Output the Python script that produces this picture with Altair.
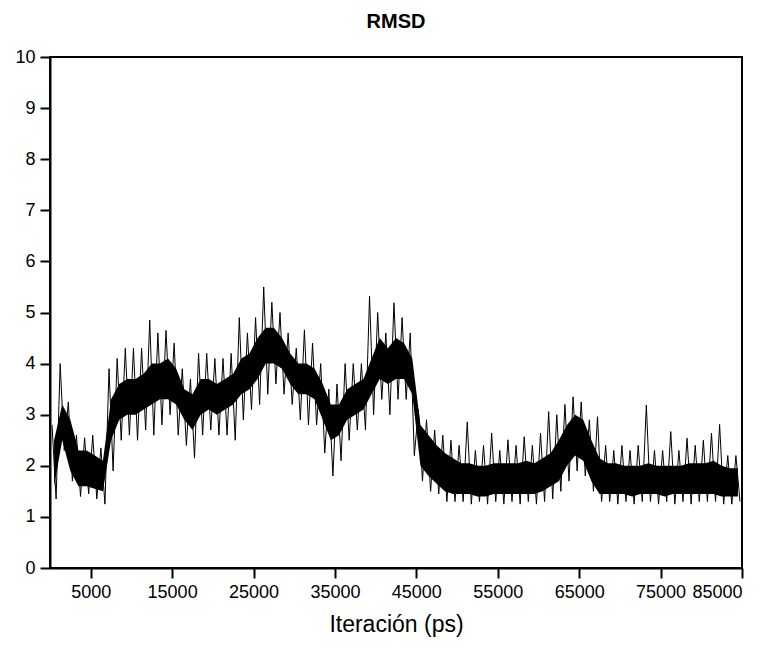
import altair as alt
import pandas as pd

# Bin starts (ps), one bin per 1000 ps
t_start = list(range(0, 85000, 1000))

# Dense core of the RMSD trace (lower / upper edge), per bin
core_lo = [1.6, 2.5, 1.9, 1.6, 1.6, 1.55, 1.5, 2.5, 2.9, 3.0,
           3.0, 3.1, 3.2, 3.3, 3.3, 3.2, 2.9, 2.7, 3.0, 3.1,
           3.0, 3.1, 3.2, 3.4, 3.5, 3.7, 4.0, 4.0, 3.9, 3.6,
           3.4, 3.4, 3.3, 2.9, 2.5, 2.6, 2.9, 3.0, 3.1, 3.4,
           3.7, 3.6, 3.7, 3.7, 3.4, 2.0, 1.8, 1.65, 1.5, 1.45,
           1.45, 1.45, 1.4, 1.4, 1.45, 1.45, 1.45, 1.45, 1.45, 1.45,
           1.5, 1.6, 1.7, 2.0, 2.2, 2.1, 1.7, 1.45, 1.45, 1.45,
           1.45, 1.4, 1.45, 1.45, 1.45, 1.4, 1.45, 1.45, 1.45, 1.45,
           1.45, 1.45, 1.4, 1.4, 1.4]
core_hi = [2.5, 3.2, 2.9, 2.3, 2.3, 2.2, 2.1, 3.3, 3.6, 3.7,
           3.7, 3.8, 4.0, 4.0, 4.1, 3.9, 3.5, 3.4, 3.7, 3.7,
           3.6, 3.7, 3.8, 4.1, 4.2, 4.5, 4.7, 4.7, 4.5, 4.2,
           4.0, 4.0, 3.9, 3.6, 3.2, 3.2, 3.5, 3.6, 3.7, 4.1,
           4.5, 4.3, 4.5, 4.4, 4.1, 2.8, 2.6, 2.4, 2.25, 2.15,
           2.05, 2.05, 2.0, 2.0, 2.05, 2.05, 2.05, 2.05, 2.1, 2.05,
           2.15, 2.25, 2.5, 2.8, 3.0, 2.9, 2.5, 2.15, 2.05, 2.05,
           2.0, 2.0, 2.0, 2.05, 2.0, 2.0, 2.0, 2.0, 2.05, 2.05,
           2.05, 2.1, 2.0, 1.95, 1.95]

# Extremes (spikes) per bin
spike_min = [1.35, 2.3, 1.7, 1.4, 1.45, 1.35, 1.25, 1.9, 2.5, 2.6,
             2.5, 2.7, 2.6, 2.8, 3.0, 2.6, 2.4, 2.15, 2.6, 2.7,
             2.6, 2.6, 2.5, 2.9, 3.1, 3.2, 3.4, 3.6, 3.4, 3.2,
             2.9, 2.8, 2.8, 2.25, 1.8, 2.1, 2.5, 2.7, 2.7, 3.0,
             3.3, 3.0, 3.3, 3.3, 2.2, 1.7, 1.5, 1.45, 1.3, 1.3,
             1.3, 1.25, 1.3, 1.25, 1.3, 1.25, 1.3, 1.25, 1.3, 1.25,
             1.3, 1.35, 1.5, 1.7, 1.9, 1.8, 1.5, 1.3, 1.3, 1.25,
             1.3, 1.25, 1.3, 1.3, 1.25, 1.3, 1.25, 1.3, 1.25, 1.3,
             1.3, 1.3, 1.25, 1.25, 1.3]
spike_max = [2.8, 4.0, 3.25, 2.6, 2.55, 2.6, 2.35, 3.9, 4.1, 4.3,
             4.3, 4.3, 4.85, 4.6, 4.65, 4.4, 3.9, 3.7, 4.2, 4.2,
             4.1, 4.1, 4.2, 4.9, 4.6, 4.9, 5.5, 5.2, 5.0, 4.6,
             4.3, 4.66, 4.4, 4.0, 3.5, 3.6, 4.0, 4.0, 4.0, 5.32,
             5.0, 4.6, 5.19, 4.9, 4.6, 3.1, 2.9, 2.7, 2.6, 2.5,
             2.4, 2.86, 2.3, 2.4, 2.64, 2.3, 2.51, 2.4, 2.57, 2.4,
             2.64, 3.06, 3.0, 3.2, 3.35, 3.25, 2.9, 2.96, 2.4, 2.3,
             2.4, 2.3, 2.4, 3.19, 2.3, 2.3, 2.67, 2.3, 2.54, 2.4,
             2.5, 2.64, 2.81, 2.2, 2.2]

x_ticks = [5000, 15000, 25000, 35000, 45000, 55000, 65000, 75000, 85000]
y_ticks = [0, 1, 2, 3, 4, 5, 6, 7, 8, 9, 10]

core_df = pd.DataFrame({
    "t": [t + 500 for t in t_start],
    "lo": core_lo,
    "hi": core_hi,
})

zig_t, zig_v = [], []
for t, mx, mn in zip(t_start, spike_max, spike_min):
    zig_t += [t + 250, t + 750]
    zig_v += [mx, mn]
zig_df = pd.DataFrame({"t": zig_t, "v": zig_v})

FONT = "Liberation Sans"

x_enc = alt.X(
    "t:Q",
    scale=alt.Scale(domain=[0, 85000], nice=False, zero=False),
    axis=alt.Axis(values=x_ticks, format="d", title="Iteración (ps)"),
)

core = alt.Chart(core_df).mark_area(color="black", opacity=1, interpolate="linear").encode(
    x=x_enc,
    y=alt.Y("lo:Q", scale=alt.Scale(domain=[0, 10], nice=False),
            axis=alt.Axis(values=y_ticks, title=None)),
    y2="hi:Q",
)

zig = alt.Chart(zig_df).mark_line(color="black", strokeWidth=1).encode(
    x=alt.X("t:Q"),
    y=alt.Y("v:Q"),
)

chart = alt.layer(core, zig).properties(
    width=692,
    height=511,
    background="white",
    title=alt.TitleParams("RMSD", font=FONT, fontSize=20, fontWeight="bold",
                          color="black", offset=16, anchor="middle"),
    autosize=alt.AutoSizeParams(type="none"),
    padding={"left": 42, "top": 49, "right": 27, "bottom": 72},
).configure_view(
    stroke="black", strokeWidth=2
).configure_axis(
    grid=False,
    domainColor="black", domainWidth=2,
    tickColor="black", tickWidth=2, tickSize=10,
    labelFont=FONT, labelFontSize=18, labelColor="black", labelPadding=5,
    titleFont=FONT, titleFontSize=23, titleFontWeight="normal", titleColor="black",
    titlePadding=12,
)

chart.save("out.html", embed_options={"renderer": "svg", "actions": False})
